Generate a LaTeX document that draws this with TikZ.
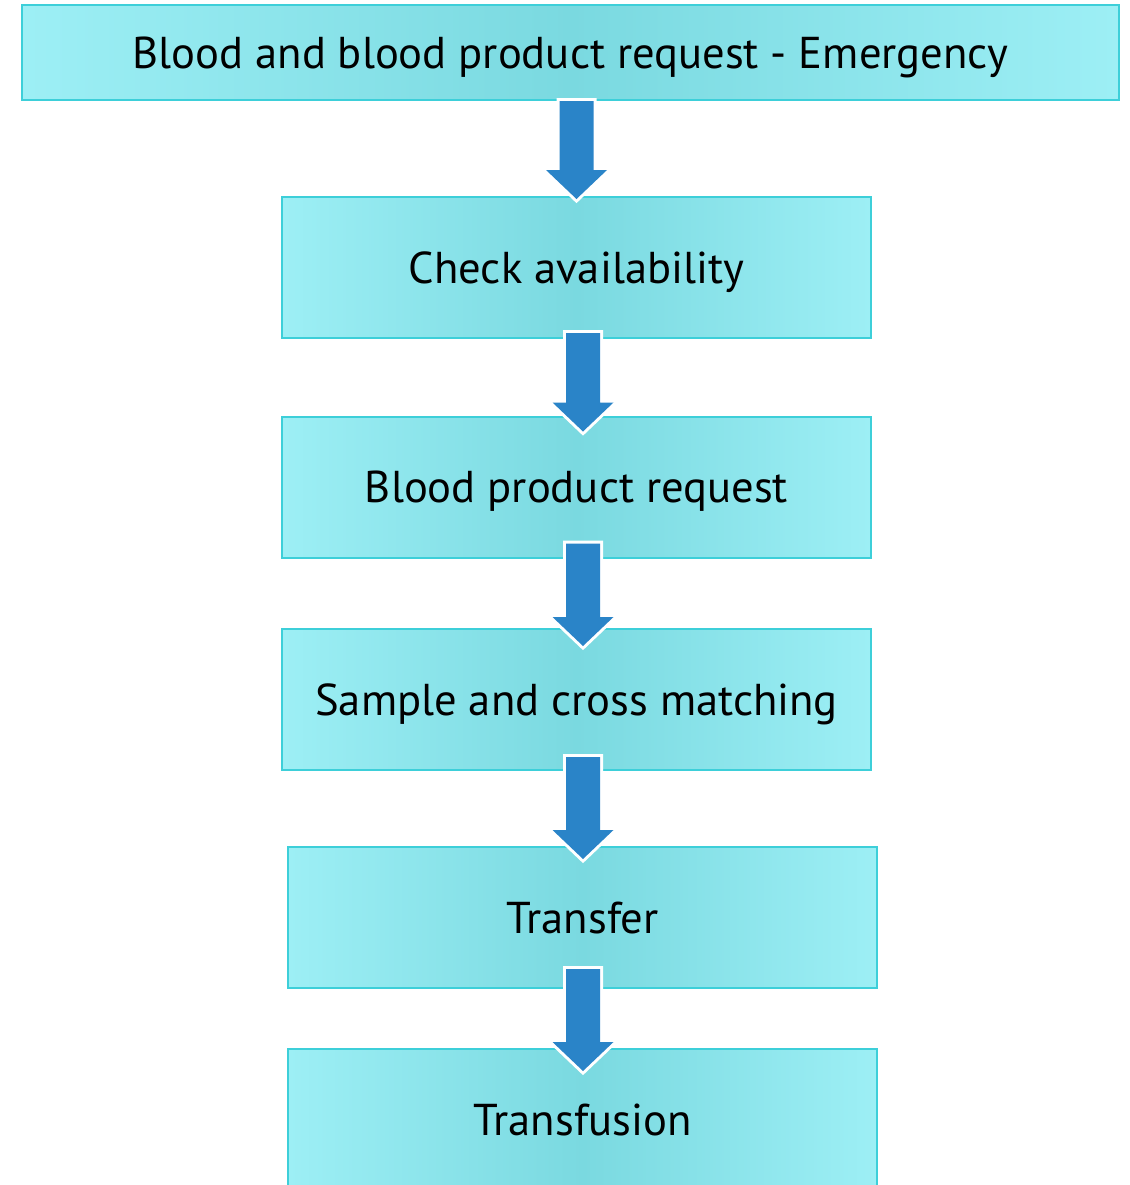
\documentclass[tikz,border=0pt]{standalone}
\usepackage{fontspec}
\setmainfont{PT Sans}
\usetikzlibrary{calc}
\definecolor{boxedge}{HTML}{9DEFF5}
\definecolor{boxmid}{HTML}{7AD9E0}
\definecolor{boxline}{HTML}{3DCFD9}
\definecolor{arrowblue}{HTML}{2A84C8}
\tikzset{
	stepbox/.style={draw=boxline, line width=1pt, left color=boxedge, right color=boxedge,
		middle color=boxmid, inner sep=0pt, minimum width=294.5pt, minimum height=70.5pt,
		text height=15.6pt, text depth=0pt, font=\fontsize{22.3}{26}\selectfont},
	downarrow/.style={fill=arrowblue, preaction={draw=white, line width=3pt},
		to path={let \p1=(\tikztostart), \p2=(\tikztotarget) in
			(\x1-8.5pt,\y1) -- (\x1-8.5pt,\y2+14.5pt) -- (\x1-15.25pt,\y2+14.5pt) -- (\x1,\y2)
			-- (\x1+15.25pt,\y2+14.5pt) -- (\x1+8.5pt,\y2+14.5pt) -- (\x1+8.5pt,\y1) -- cycle}}
}
\begin{document}
\begin{tikzpicture}[x=0.5pt,y=-0.5pt]
		\useasboundingbox (0,0) rectangle (1130,1185);
		\node[stepbox, minimum width=548.5pt, minimum height=47.5pt] (req) at (570.5,52.5) {Blood and blood product request - Emergency};
		\node[stepbox] (chk) at (576.5,267.5) {Check availability};
		\node[stepbox] (prq) at (576.5,487) {Blood product request};
		\node[stepbox] (smp) at (576.5,699.5) {Sample and cross matching};
		\node[stepbox] (trf) at (582.5,917.5) {Transfer};
		\node[stepbox] (tfs) at (582.5,1119.5) {Transfusion};
		\foreach \a/\b/\dx/\up/\dn in {req/chk/3/0/-1.5, chk/prq/3.25/3/-8, prq/smp/3.25/7.5/-9, smp/trf/3.25/7/-6.5, trf/tfs/0.25/10/-11.5}
			\fill[downarrow] ([shift={(\dx pt,\up pt)}]\a.south) to ([yshift=\dn pt]\b.north);
	\end{tikzpicture}
\end{document}
